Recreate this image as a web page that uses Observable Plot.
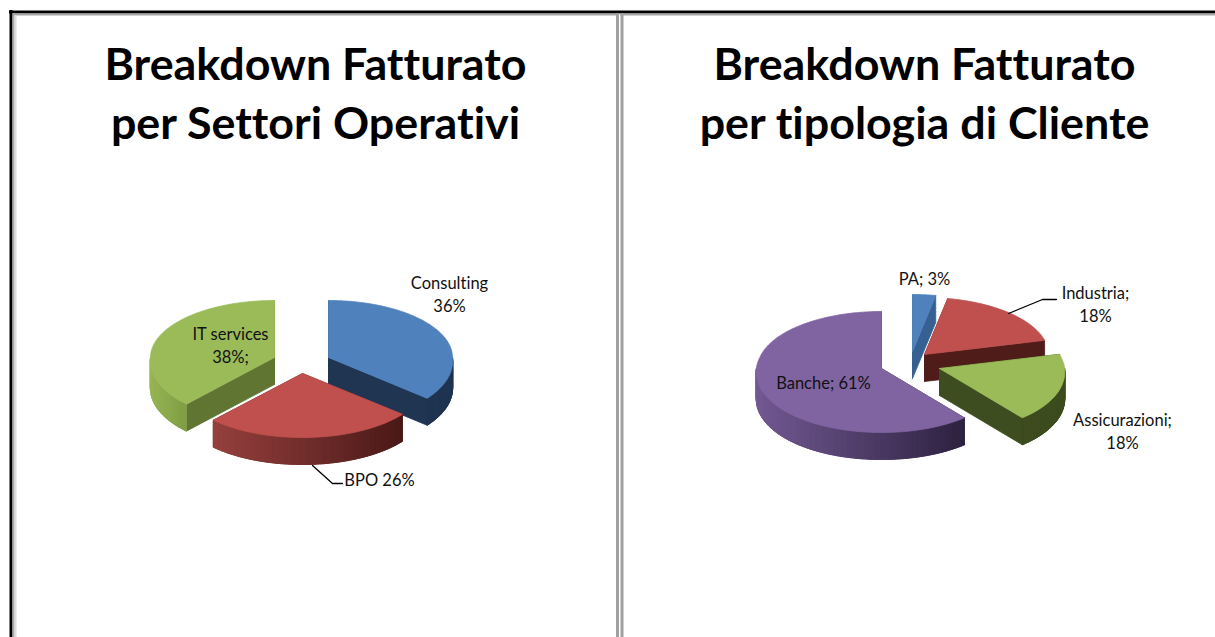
<!DOCTYPE html>
<html lang="it">
<head>
<meta charset="utf-8">
<title>Breakdown Fatturato</title>
<script src="https://cdn.jsdelivr.net/npm/d3@7"></script>
<script src="https://cdn.jsdelivr.net/npm/@observablehq/plot@0.6"></script>
<style>
html,body{margin:0;padding:0;background:#fff;overflow:hidden}
svg{display:block}
svg text{font-variant-ligatures:none;font-feature-settings:"liga" 0,"clig" 0}
</style>
</head>
<body>
<div id="chart"></div>
<script>
// ---- data ----
const sectorCategories = ["Consulting", "BPO", "IT services"];
const sectorValues = [36, 26, 38];
const clientCategories = ["PA", "Industria", "Assicurazioni", "Banche"];
const clientValues = [3, 18, 18, 61];
const sectorTitle = ["Breakdown Fatturato", "per Settori Operativi"];
const clientTitle = ["Breakdown Fatturato", "per tipologia di Cliente"];
const sectorLabels = ["Consulting\n36%", "BPO 26%", "IT services\n38%;"];
const clientLabels = ["PA; 3%", "Industria;\n18%", "Assicurazioni;\n18%", "Banche; 61%"];

// ---- styling and layout options ----
const topColors = {sector: ["#4f81bd", "#c0504d", "#9bbb59"], client: ["#4f81bd", "#c0504d", "#9bbb59", "#8064a2"]};
const faceColors = {sector: ["#1f3552", "#6b2523", "#5f7531"], client: ["#376092", "#4f1c1a", "#3e4d20", "#3b2d4d"]};
const wallFrom = {sector: ["#1f3552", "#96413e", "#97b655"], client: ["#376092", "#4f1c1a", "#3e4d20", "#735a93"]};
const wallTo = {sector: ["#1f3552", "#4a1a18", "#7f9c45"], client: ["#376092", "#4f1c1a", "#3e4d20", "#2e2240"]};
const sectorApexX = [328, 302, 274];
const sectorApexY = [357, 373, 357];
const clientApexX = [912, 924, 939, 881];
const clientApexY = [351, 354, 368, 368];
const rx = 124, ryBack = 57, ryFront = 64, depth = 27;
const perspectiveY = 357, perspective = 0.0008;

const titleX = [315, 924];
const titleY = [65, 124];
const sectorLabelPos = [[449, 293], [379, 478], [230, 344]];
const clientLabelPos = [[924, 277], [1095, 303], [1122, 430], [823, 381]];
const leaderLines = [
  [[312, 465], [332, 483], [342, 483]],
  [[1008, 313], [1042, 299], [1056, 299]]
];

// ---- pie geometry derived from the values ----
const rad = d => d * Math.PI / 180;
function rim(cx, cy, deg, dz = 0) {
  const c = Math.cos(rad(deg));
  const y = cy - c * (c > 0 ? ryBack : ryFront);
  const scale = 1 + Math.max(0, y - perspectiveY) * perspective;
  return [cx + rx * Math.sin(rad(deg)) * scale, y + dz];
}
function arcDegrees(a0, a1, step = 1) {
  const out = d3.range(a0, a1, step);
  out.push(a1);
  return out;
}
const polys = [];
let polyId = 0;
function addPoly(points, color) {
  const id = polyId++;
  [...points, points[0]].forEach(([x, y]) => polys.push({id, x, y, color}));
}
function addPie(values, apexX, apexY, key, order) {
  const total = d3.sum(values);
  const starts = d3.cumsum([0, ...values]).map(v => v / total * 360);
  order.forEach(i => {
    const a0 = starts[i], a1 = starts[i + 1];
    const cx = apexX[i], cy = apexY[i];
    // radial cut faces
    [a0, a1].forEach(a => {
      const [x, y] = rim(cx, cy, a);
      addPoly([[cx, cy], [x, y], [x, y + depth], [cx, cy + depth]], faceColors[key][i]);
    });
    // outer wall, front half only
    const w0 = Math.max(a0, 90), w1 = Math.min(a1, 270);
    if (w1 > w0) {
      const degs = arcDegrees(w0, w1);
      const xs = degs.map(d => rim(cx, cy, d)[0]);
      const [xMin, xMax] = d3.extent(xs);
      const shade = d3.interpolateRgb(wallFrom[key][i], wallTo[key][i]);
      const upper = degs.map(d => rim(cx, cy, d));
      const lower = upper.map(([x, y]) => [x, y + depth]).reverse();
      addPoly([...upper, ...lower], d3.color(shade(0.5)).formatHex());
      d3.pairs(degs).forEach(([d0, d1]) => {
        const p0 = rim(cx, cy, d0), p1 = rim(cx, cy, d1);
        const t = ((p0[0] + p1[0]) / 2 - xMin) / (xMax - xMin);
        addPoly([p0, p1, [p1[0], p1[1] + depth], [p0[0], p0[1] + depth]], d3.color(shade(t)).formatHex());
      });
    }
    // top face
    addPoly([[cx, cy], ...arcDegrees(a0, a1).map(d => rim(cx, cy, d))], topColors[key][i]);
  });
}
addPie(sectorValues, sectorApexX, sectorApexY, "sector", [2, 0, 1]);
addPie(clientValues, clientApexX, clientApexY, "client", [3, 0, 1, 2]);

const labelRows = [
  ...sectorLabels.map((text, i) => ({text, x: sectorLabelPos[i][0], y: sectorLabelPos[i][1]})),
  ...clientLabels.map((text, i) => ({text, x: clientLabelPos[i][0], y: clientLabelPos[i][1]}))
];
const titleRows = [
  ...sectorTitle.map((text, i) => ({text, x: titleX[0], y: titleY[i]})),
  ...clientTitle.map((text, i) => ({text, x: titleX[1], y: titleY[i]}))
];
const leaderRows = leaderLines.flatMap((line, id) => line.map(([x, y]) => ({id, x, y})));

const plot = Plot.plot({
  width: 1215,
  height: 637,
  margin: 0,
  style: {background: "#fff", overflow: "hidden"},
  x: {domain: [0, 1215], range: [0, 1215], axis: null},
  y: {domain: [0, 637], range: [0, 637], axis: null},
  marks: [
    // table frame
    Plot.ruleY([11.5], {x1: 9, x2: 1215, stroke: "#000", strokeWidth: 3}),
    Plot.ruleY([14], {x1: 12, x2: 616, stroke: "#a6a6a6", strokeWidth: 2}),
    Plot.ruleY([14], {x1: 620, x2: 1215, stroke: "#a6a6a6", strokeWidth: 2}),
    Plot.ruleX([10.5], {y1: 10, y2: 637, stroke: "#000", strokeWidth: 3}),
    Plot.ruleX([13], {y1: 13, y2: 637, stroke: "#a6a6a6", strokeWidth: 2}),
    Plot.ruleX([15], {y1: 15, y2: 637, stroke: "#dcdcdc", strokeWidth: 2}),
    Plot.ruleX([617], {y1: 13, y2: 637, stroke: "#a0a0a0", strokeWidth: 3}),
    Plot.ruleX([621.5], {y1: 13, y2: 637, stroke: "#a0a0a0", strokeWidth: 3}),
    // pies
    Plot.line(polys, {x: "x", y: "y", z: "id", fill: "color", stroke: "color", strokeWidth: 0.8, curve: "linear"}),
    // leaders
    Plot.line(leaderRows, {x: "x", y: "y", z: "id", stroke: "#000", strokeWidth: 1.3}),
    // labels
    Plot.text(labelRows, {x: "x", y: "y", text: "text", fontFamily: "Lato", fontSize: 16.5, lineHeight: 1.39, fill: "#111"}),
    // titles
    Plot.text(titleRows, {x: "x", y: "y", text: "text", fontFamily: "Lato", fontWeight: 700, fontSize: 44.8, fill: "#000"})
  ]
});
document.getElementById("chart").append(plot);
</script>
</body>
</html>
